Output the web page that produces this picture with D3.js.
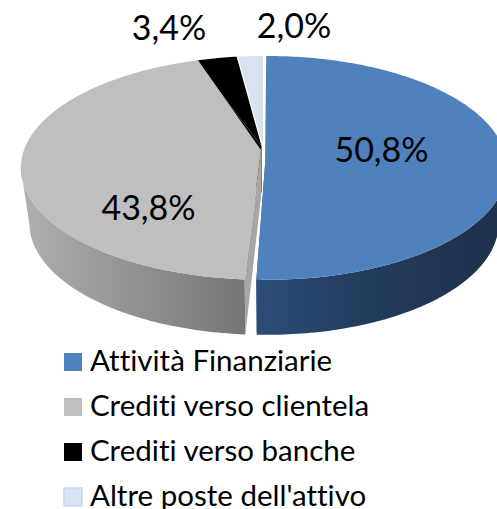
<!DOCTYPE html>
<html>
<head>
<meta charset="utf-8">
<script src="https://cdn.jsdelivr.net/npm/d3@7/dist/d3.min.js"></script>
<style>html,body{margin:0;padding:0;background:#fff;overflow:hidden}svg{display:block}text{font-variant-ligatures:none}</style>
</head>
<body>
<script>
const categories = ["Attività Finanziarie", "Crediti verso clientela", "Crediti verso banche", "Altre poste dell'attivo"];
const shares = [50.8, 43.8, 3.4, 2.0];
const shareLabels = ["50,8%", "43,8%", "3,4%", "2,0%"];
const topColors = ["#4f81bd", "#bfbfbf", "#000000", "#d8e2f0"];
const cutColors = ["#2f5280", "#a6a6a6", "#000000", "#d8e2f0"];

// per-slice projection (exploded slices sit slightly apart)
const rimCenterX = [268, 264, 261, 263];
const rimRadiusX = [236, 240, 225, 231];
const rimTurn = [-0.5, 1, 0, 0].map(d => d * Math.PI / 180);
const apexX = [265, 261, 261.5, 263];
const apexY = [165, 150, 146, 146];
const labelX = [381.5, 148.5, 169, 294];
const labelY = [162, 220, 40, 38];
const W = 497, H = 509;
const persp = 0.16, planeY = 150, planeK = 109, depthFront = 55, depthApex = 47, lowerInset = 0.965;

const svg = d3.select("body").append("svg").attr("width", W).attr("height", H)
  .style("font-family", "Lato, 'Open Sans', sans-serif");
const defs = svg.append("defs");

function addGradient(id, stops) {
  const g = defs.append("linearGradient").attr("id", id)
    .attr("gradientUnits", "objectBoundingBox").attr("x1", 0).attr("x2", 1).attr("y1", 0).attr("y2", 0);
  stops.forEach(s => g.append("stop").attr("offset", s[0]).attr("stop-color", s[1]));
}
addGradient("wallBlue", [[0, "#2c4c78"], [0.45, "#233b5c"], [1, "#1e3049"]]);
addGradient("wallGray", [[0, "#b0b0b0"], [0.45, "#959595"], [1, "#767676"]]);

const pieGen = d3.pie().sort(null).value(d => d);
const arcs = pieGen(shares);

function rimPoint(i, theta) {
  const t = theta + rimTurn[i];
  const u = Math.sin(t), v = -Math.cos(t);
  const f = 1 / (1 - persp * v);
  return [rimCenterX[i] + rimRadiusX[i] * u * f, planeY + planeK * v * f, v];
}
const line = d3.line();
function rimSamples(i) {
  const a = arcs[i];
  const steps = Math.max(8, Math.round((a.endAngle - a.startAngle) * 60));
  return d3.range(steps + 1).map(k => a.startAngle + (a.endAngle - a.startAngle) * k / steps);
}
function topPath(i) {
  return line([[apexX[i], apexY[i]]].concat(rimSamples(i).map(t => rimPoint(i, t).slice(0, 2)))) + "Z";
}
function lowerPoint(i, p) {
  return [rimCenterX[i] + (p[0] - rimCenterX[i]) * lowerInset, p[1] + depthFront];
}
function wallPath(i) {
  // only the front part of the rim, up to the widest point, is a visible wall
  const pts = rimSamples(i).map(t => rimPoint(i, t)).filter(p => p[2] >= persp);
  const upper = pts.map(p => [p[0], p[1]]);
  const lower = pts.map(p => lowerPoint(i, p)).reverse();
  return line(upper.concat(lower)) + "Z";
}
function cutPath(i, theta) {
  const r = rimPoint(i, theta);
  return line([[apexX[i], apexY[i]], [r[0], r[1]], lowerPoint(i, r), [apexX[i], apexY[i] + depthApex]]) + "Z";
}

const pieG = svg.append("g");
// black slice: its cut face shows as a thin strip behind the grey slice
pieG.append("path").attr("d", cutPath(2, arcs[2].startAngle)).attr("fill", cutColors[2]);
pieG.append("path").attr("d", topPath(2)).attr("fill", topColors[2]);
pieG.append("path").attr("d", topPath(3)).attr("fill", topColors[3]);
// grey slice
pieG.append("path").attr("d", wallPath(1)).attr("fill", "url(#wallGray)");
pieG.append("path").attr("d", cutPath(1, arcs[1].startAngle)).attr("fill", cutColors[1]);
pieG.append("path").attr("d", topPath(1)).attr("fill", topColors[1]);
// blue slice
pieG.append("path").attr("d", wallPath(0)).attr("fill", "url(#wallBlue)");
pieG.append("path").attr("d", cutPath(0, arcs[0].endAngle)).attr("fill", cutColors[0]);
pieG.append("path").attr("d", topPath(0)).attr("fill", topColors[0]);

// data labels
svg.append("g").selectAll("text").data(shareLabels).join("text")
  .attr("x", (d, i) => labelX[i]).attr("y", (d, i) => labelY[i])
  .attr("text-anchor", "middle").attr("font-size", 34).attr("fill", "#000").text(d => d);

// legend
const legendY = d3.scalePoint().domain(categories).range([353, 488]);
const legend = svg.append("g").selectAll("g").data(categories).join("g")
  .attr("transform", d => `translate(64,${legendY(d)})`);
legend.append("rect").attr("width", 18).attr("height", 18)
  .attr("fill", (d, i) => topColors[i])
  .attr("stroke", (d, i) => i === 3 ? "#c6d9f1" : "none").attr("stroke-width", 1.5);
legend.append("text").attr("x", 26).attr("y", 18).attr("font-size", 29.5).attr("fill", "#000").text(d => d);
</script>
</body>
</html>
